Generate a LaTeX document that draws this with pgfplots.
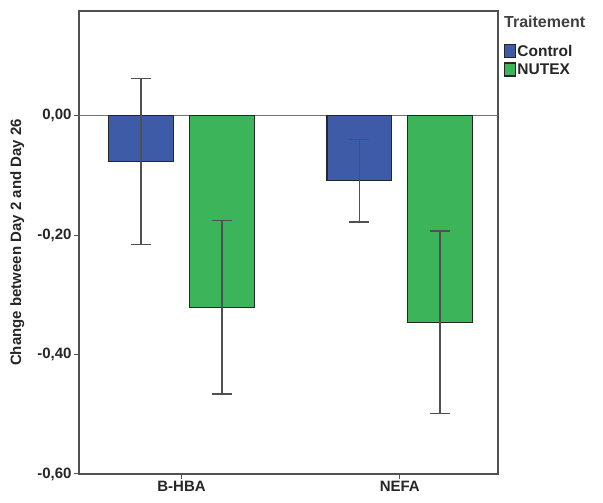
\documentclass[border=0pt]{standalone}
\usepackage{pgfplots}
\pgfplotsset{compat=1.18}
\usepackage{fontspec}
\setmainfont{Liberation Sans}
\definecolor{ctrl}{HTML}{3E5BA8}
\definecolor{nutex}{HTML}{3CB55A}
\definecolor{axgray}{HTML}{505050}
\begin{document}
\begin{tikzpicture}
\begin{axis}[
  scale only axis,
  width=419pt, height=463pt,
  xmin=-0.47, xmax=1.45,
  ymin=-0.6, ymax=0.175,
  xtick={0,1}, xticklabels={B-HBA,NEFA},
  ytick={-0.6,-0.4,-0.2,0},
  tick align=outside,
  xtick pos=bottom, ytick pos=left,
  major tick length=5pt,
  tick style={axgray, line width=1pt},
  axis line style={axgray, line width=1.3pt},
  /pgf/number format/.cd, fixed, fixed zerofill, precision=2, use comma, assume math mode=true,
  /pgfplots/.cd,
  ticklabel style={font=\fontsize{15}{17}\selectfont\bfseries, text=black!85},
  yticklabel style={xshift=1pt},
  xticklabel style={yshift=1pt},
  ylabel={Change between Day 2 and Day 26},
  ylabel style={at={(axis description cs:-0.147,0.5)}, anchor=center, font=\fontsize{15}{17}\selectfont\bfseries, text=black!85},
  legend style={at={(axis description cs:1,1)}, anchor=north west, xshift=6pt, yshift=-33pt,
    draw=none, fill=none, inner sep=0pt, row sep=4pt,
    font=\fontsize{15.5}{17}\selectfont\bfseries, text=black!85,
    nodes={inner xsep=1pt, inner ysep=0pt}},
  legend cell align=left,
  legend image code/.code={\draw[#1, draw=black!85, line width=1.2pt] (0pt,-6.5pt) rectangle (11pt,6.5pt);},
  error bars/error bar style={axgray, line width=1.4pt},
  error bars/error mark options={rotate=90, mark size=10pt, axgray, line width=1.4pt},
  clip=false,
]
\addplot[axgray!80, line width=1pt, forget plot] coordinates {(-0.47,0) (1.45,0)};
\addplot[ybar, bar width=0.297, bar shift=0pt, fill=ctrl, draw=black!85, line width=1.2pt,
  error bars/.cd, y dir=both, y explicit]
  coordinates {(-0.185,-0.077) +- (0,0.139) (0.815,-0.109) +- (0,0.069)};
\addlegendentry{Control}
\addplot[ybar, bar width=0.297, bar shift=0pt, fill=nutex, draw=black!85, line width=1.2pt,
  error bars/.cd, y dir=both, y explicit]
  coordinates {(0.185,-0.321) +- (0,0.145) (1.185,-0.346) +- (0,0.153)};
\addlegendentry{NUTEX}
\node[anchor=west, font=\fontsize{16}{18}\selectfont\bfseries, text=black!75, inner sep=0pt]
  at (axis description cs:1,1) [xshift=6pt, yshift=-11pt] {Traitement};
\end{axis}
\path (current axis.south west) ++(-79pt,-29pt) rectangle ++(603pt,503pt);
\end{tikzpicture}
\end{document}
